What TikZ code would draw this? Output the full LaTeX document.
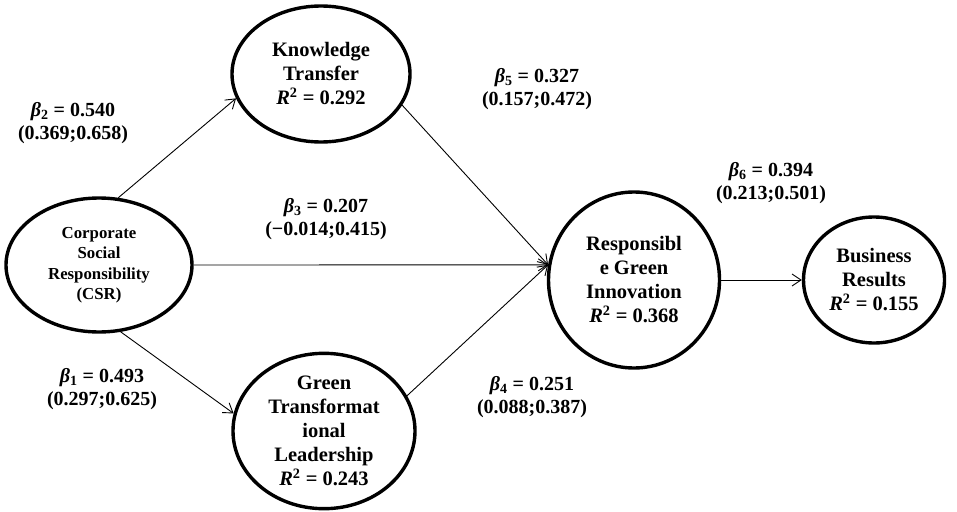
\documentclass[tikz,border=0pt]{standalone}
\usepackage{fontspec}
\setmainfont{Liberation Serif}
\usetikzlibrary{shapes.geometric,arrows.meta}
\newcommand{\Rsq}{\textit{R}\textsuperscript{2}}
\newcommand{\bet}[1]{\textit{β}\textsubscript{#1}}
\tikzset{
  construct/.style={ellipse,draw,line width=3.4pt,inner sep=0pt,align=center,
    font=\fontsize{20.5}{24}\selectfont\bfseries},
  coef/.style={align=center,font=\fontsize{20}{23.5}\selectfont\bfseries},
  path/.style={line width=0.9pt,-{Straight Barb[length=9pt,width=12pt,line width=0.9pt]}}
}
\begin{document}
\begin{tikzpicture}[x=1pt,y=-1pt]
\useasboundingbox (0,0) rectangle (957,511);
\node[construct,minimum width=186pt,minimum height=134pt,
  font=\fontsize{16.8}{20.5}\selectfont\bfseries] (csr) at (99,265)
  {Corporate\\Social\\Responsibility\\(CSR)};
\node[construct,minimum width=178pt,minimum height=136pt] (kt) at (321,74)
  {Knowledge\\Transfer\\\Rsq{} = 0.292};
\node[construct,minimum width=182pt,minimum height=151pt] (gtl) at (324,431)
  {Green\\Transformat\\ional\\Leadership\\\Rsq{} = 0.243};
\node[construct,minimum width=171pt,minimum height=176pt] (rgi) at (634,280)
  {Responsibl\\e Green\\Innovation\\\Rsq{} = 0.368};
\node[construct,minimum width=141pt,minimum height=126pt] (br) at (874,280)
  {Business\\Results\\\Rsq{} = 0.155};

\draw[path] (csr.74) -- (kt.196);
\draw[path] (csr.288) -- (gtl.169);
\draw[path] (csr.east) -- (rgi.170);
\draw[path] (kt.339) -- (rgi.170);
\draw[path] (gtl.23) -- (rgi.170);
\draw[path] (rgi.east) -- (br.west);

\node[coef] (b2) at (73,123) {\bet{2} = 0.540\\(0.369;0.658)};
\node[coef] (b3) at (326,219) {\bet{3} = 0.207\\(−0.014;0.415)};
\node[coef] (b5) at (537,89) {\bet{5} = 0.327\\(0.157;0.472)};
\node[coef] (b1) at (102,389) {\bet{1} = 0.493\\(0.297;0.625)};
\node[coef] (b4) at (532,397) {\bet{4} = 0.251\\(0.088;0.387)};
\node[coef] (b6) at (771,183) {\bet{6} = 0.394\\(0.213;0.501)};
\end{tikzpicture}
\end{document}
